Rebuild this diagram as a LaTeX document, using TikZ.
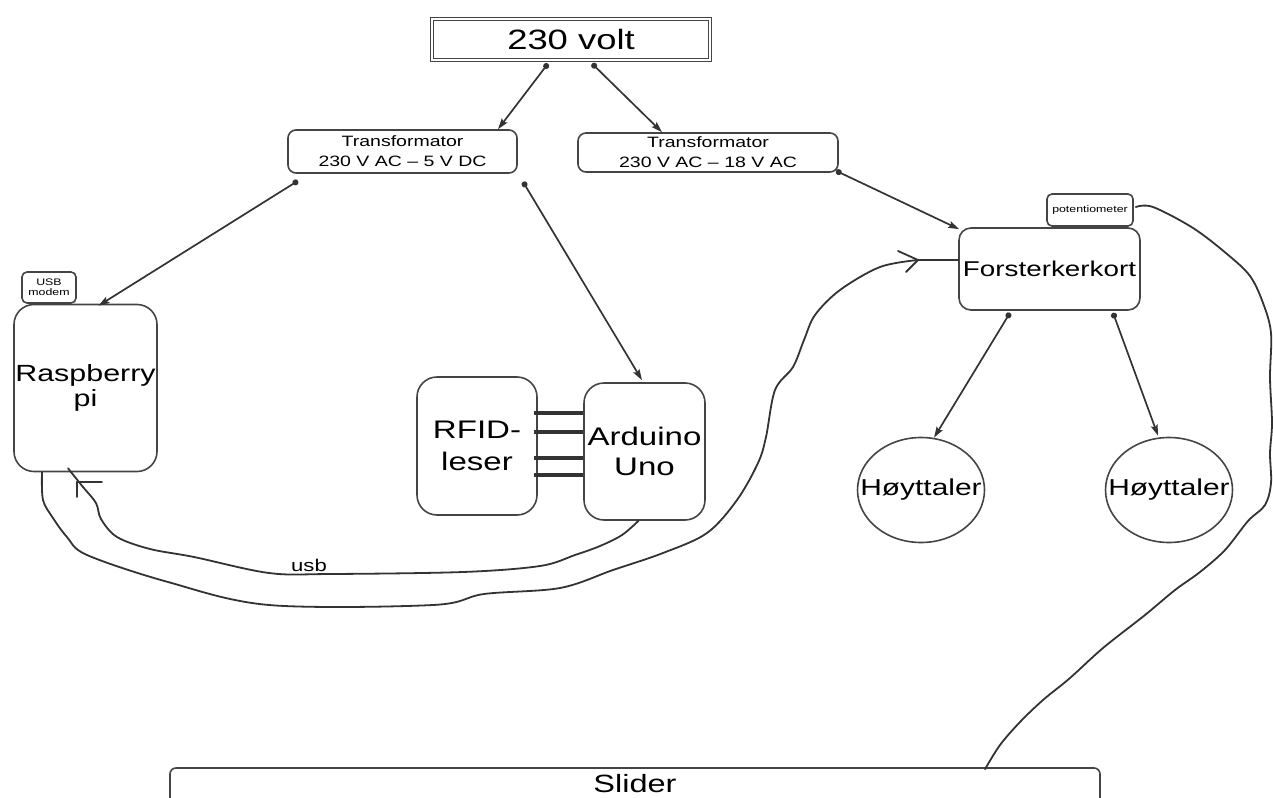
\documentclass[tikz,border=0pt]{standalone}
\usepackage{fontspec}
\setmainfont{Liberation Sans}[FakeStretch=1.3]
\usetikzlibrary{arrows.meta,calc,shapes.geometric}
\definecolor{ln}{HTML}{333333}
\definecolor{bd}{HTML}{444444}
\tikzset{
  box/.style={draw=bd, line width=1.6pt, rounded corners=#1, inner sep=0pt, align=center},
  box/.default=8pt,
  conn/.style={draw=ln, line width=1.7pt, {Circle[length=6pt]}-{Stealth[length=11pt,width=7pt,inset=2pt]}},
  wire/.style={draw=ln, line width=1.8pt, line join=round, line cap=round},
  bus/.style={draw=ln, line width=4pt},
  spk/.style={draw=bd, line width=1.6pt, ellipse, inner sep=0pt, minimum width=127pt, minimum height=105pt},
  fs/.style 2 args={font=\fontsize{#1}{#2}\selectfont},
}
\begin{document}
\begin{tikzpicture}[x=1pt,y=-1pt]
\useasboundingbox (0,0) rectangle (1273,797);
\clip (0,0) rectangle (1273,797);

% nodes
\node[draw=bd, line width=1.2pt, double, double distance=2.2pt, minimum width=278pt, minimum height=41pt, inner sep=0pt, fs={28}{32}] (volt) at (571,39.5) {230 volt};
\node[box=8pt, minimum width=229pt, minimum height=43pt, fs={15}{20}] (t1) at (402.5,151.5) {Transformator\\230 V AC – 5 V DC};
\node[box=8pt, minimum width=260pt, minimum height=39pt, fs={15}{20}] (t2) at (708,152.5) {Transformator\\230 V AC – 18 V AC};
\node[box=5pt, minimum width=54pt, minimum height=31pt, fs={9.5}{10}] (modem) at (49,287.5) {USB\\modem};
\node[box=20pt, minimum width=143pt, minimum height=167pt, fs={23.4}{25}] (rpi) at (85.5,388) {Raspberry\\pi};
\node[box=20pt, minimum width=120pt, minimum height=138pt, fs={25.4}{32}] (rfid) at (477,446) {RFID-\\leser};
\node[box=20pt, minimum width=121pt, minimum height=137pt, fs={25.4}{30}] (ard) at (644.5,451.5) {Arduino\\Uno};
\node[box=12pt, minimum width=181pt, minimum height=82pt, fs={21.4}{24}] (fk) at (1049.5,269) {Forsterkerkort};
\node[box=5pt, minimum width=86pt, minimum height=32pt, fs={9.5}{10}] (pot) at (1090,210) {potentiometer};
\node[spk] (h1) at (921,490) {};
\node[fs={23}{25}] (h1t) at (h1.center) {Høyttaler};
\node[spk] (h2) at (1169,490) {};
\node[fs={23}{25}] (h2t) at (h2.center) {Høyttaler};
\node[box=6pt, minimum width=930pt, minimum height=62pt] (slider) at (635,799) {};
\node[fs={25}{28}, anchor=base] (slidert) at ($(slider.north)+(0,25)$) {Slider};

% connectors
\draw[conn] ($(volt.south)+(-23,3)$) -- ($(t1.north)+(95.5,0)$);
\draw[conn] ($(volt.south)+(21,3)$) -- ($(t2.north)+(-46,0)$);
\draw[conn] ($(t1.south)+(-104.5,7)$) -- ($(rpi.north)+(13,2)$);
\draw[conn] ($(t1.south)+(120.5,8)$) -- ($(ard.north)+(-2.5,-2)$);
\draw[conn] ($(t2.south)+(128,-2)$) -- ($(fk.north west)+(1,2)$);
\draw[conn] ($(fk.south)+(-39.5,2)$) -- ($(h1.north)+(13,1)$);
\draw[conn] ($(fk.south)+(63.5,2)$) -- ($(h2.north)+(-11,-1)$);

% RFID - Arduino bus
\foreach \yy in {413,432,458,475}
  \draw[bus] ($(rfid.east |- 0,\yy)+(-4,0)$) -- (ard.west |- 0,\yy);

% usb cable (inner, Arduino -> Raspberry pi)
\coordinate (ua) at ($(ard.south)+(-6,0)$);
\coordinate (ub) at ($(rpi.south)+(-17.5,-4)$);
\draw[wire] plot[smooth, tension=0.55] coordinates {(ua) (622,535) (600,546) (575,555) (540,566) (463,572) (330,574) (269,573) (194,557) (150,549) (117,537) (101,519) (96,503) (83,487) (ub)};
\draw[wire] (102,482) -- (77,482) -- (77,497);
\node[fs={17}{20}, anchor=base] (usb) at (309,571) {usb};

% outer cable (Raspberry pi -> Forsterkerkort)
\coordinate (oa) at ($(rpi.south)+(-43.5,0)$);
\coordinate (ob) at ($(fk.west)+(0,-9)$);
\draw[wire] plot[smooth, tension=0.55] coordinates {(oa) (43,500) (53,518) (67,537) (87,555) (168,582) (269,605) (433,605) (484,594) (560,588) (613,570) (663,553) (707,533) (737,500) (758,463) (766,437) (775,390) (793,367) (804,340) (815,315) (840,290) (880,267) (918,260)} -- (ob);
\draw[wire] (898,251) -- (918,260) -- (906,272);

% potentiometer cable to slider
\coordinate (pa) at ($(pot.east)+(2,-3)$);
\coordinate (pb) at ($(slider.north)+(350,2)$);
\draw[wire] plot[smooth, tension=0.55] coordinates {(pa) (1153,207) (1193,228) (1227,254) (1250,276) (1263,303) (1271,333) (1270,378) (1272,423) (1270,453) (1271,483) (1265,505) (1248,521) (1225,550) (1200,572) (1175,590) (1145,615) (1103,648) (1070,678) (1043,700) (1020,722) (1000,745) (pb)};
\end{tikzpicture}
\end{document}
